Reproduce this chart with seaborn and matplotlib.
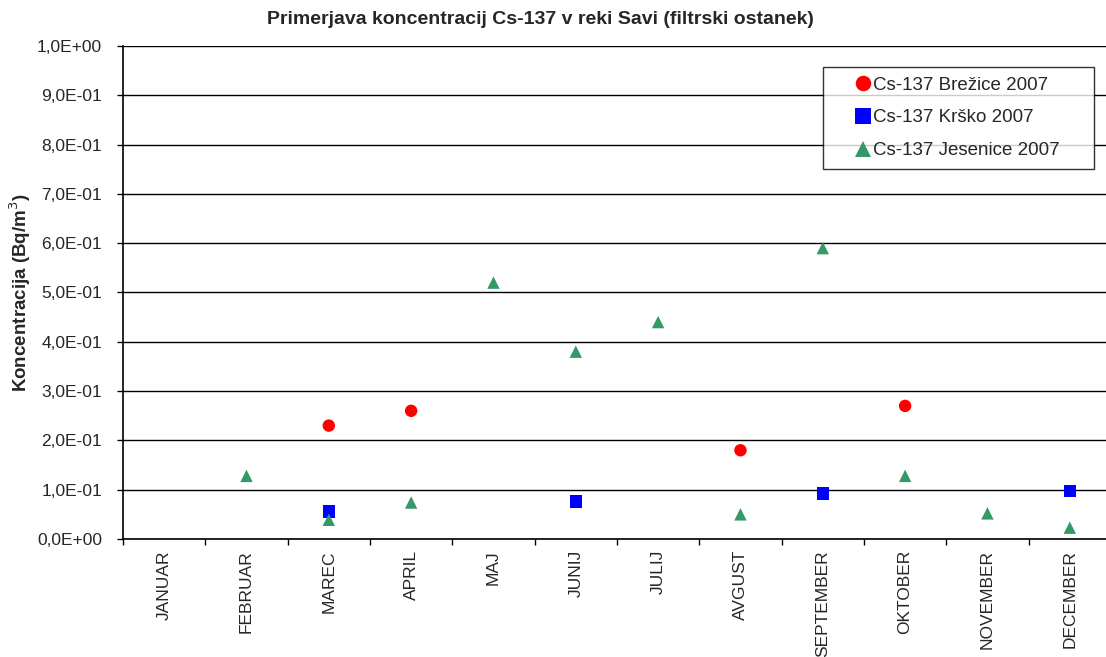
import numpy as np
import pandas as pd
import matplotlib
matplotlib.use("Agg")
import matplotlib.pyplot as plt
import seaborn as sns
from matplotlib.ticker import FixedLocator, FuncFormatter, NullFormatter

months = ["JANUAR", "FEBRUAR", "MAREC", "APRIL", "MAJ", "JUNIJ", "JULIJ",
          "AVGUST", "SEPTEMBER", "OKTOBER", "NOVEMBER", "DECEMBER"]
nan = np.nan
brezice = [nan, nan, 0.23, 0.26, nan, nan, nan, 0.18, nan, 0.27, nan, nan]
krsko = [nan, nan, 0.056, nan, nan, 0.076, nan, nan, 0.092, nan, nan, 0.097]
jesenice = [nan, 0.128, 0.039, 0.074, 0.52, 0.38, 0.44, 0.05, 0.59, 0.128, 0.052, 0.023]
series_names = ["Cs-137 Brežice 2007", "Cs-137 Krško 2007", "Cs-137 Jesenice 2007"]
y_ticks = [0.0, 0.1, 0.2, 0.3, 0.4, 0.5, 0.6, 0.7, 0.8, 0.9, 1.0]

sns.set_theme(style="white")
plt.rcParams['font.family'] = ['Liberation Sans', 'DejaVu Sans']

rows = []
for name, vals in zip(series_names, [brezice, krsko, jesenice]):
    for i, v in enumerate(vals):
        rows.append({"pos": i, "month": months[i], "value": v, "series": name})
df = pd.DataFrame(rows).dropna()

fig = plt.figure(figsize=(11.06, 6.57), dpi=100)
ax = fig.add_axes([0.1112, 0.1796, 0.8888, 0.7504])

palette = {series_names[0]: "#FF0000", series_names[1]: "#0000FF", series_names[2]: "#339966"}
markers = {series_names[0]: "o", series_names[1]: "s", series_names[2]: "^"}
sns.scatterplot(data=df, x="pos", y="value", hue="series", style="series",
                palette=palette, markers=markers, hue_order=series_names,
                style_order=series_names, s=80, linewidth=0, ax=ax, zorder=3)

ax.set_xlim(-0.5, 11.44)
ax.set_ylim(0, 1.0)
ax.set_yticks(y_ticks)
ax.yaxis.set_major_formatter(FuncFormatter(
    lambda v, p: ("%.1E" % v).replace(".", ",") if v != 0 else "0,0E+00"))
ax.grid(axis="y", color="black", linewidth=1.0)
ax.set_axisbelow(True)

ax.xaxis.set_major_locator(FixedLocator(np.arange(-0.5, 12, 1)))
ax.xaxis.set_major_formatter(NullFormatter())
ax.xaxis.set_minor_locator(FixedLocator(np.arange(12)))
ax.set_xticklabels(months, minor=True, rotation=90, fontsize=12.5)
ax.tick_params(axis="x", which="major", direction="out", length=4.5, width=1, color="black", bottom=True)
ax.tick_params(axis="x", which="minor", length=0, pad=8, bottom=True)
ax.tick_params(axis="y", direction="out", length=4.5, width=1, color="black", labelsize=12.5, left=True, pad=10.5)

for side in ["top", "right"]:
    ax.spines[side].set_visible(False)
for side in ["left", "bottom"]:
    ax.spines[side].set_color("black")
    ax.spines[side].set_linewidth(1.2)

ax.set_xlabel("")
ax.set_ylabel("Koncentracija (Bq/m$^3$)", fontsize=13.5, fontweight="bold", labelpad=3)
fig.text(540/1106, 1 - 20/657, "Primerjava koncentracij Cs-137 v reki Savi (filtrski ostanek)",
         fontsize=14, fontweight="bold", ha="center", va="center")

leg = ax.legend(loc="upper left",
                bbox_to_anchor=(823/1106, (657-165)/657, 271/1106, 98/657),
                bbox_transform=fig.transFigure, mode="expand", borderaxespad=0,
                frameon=True, fancybox=False,
                edgecolor="black", fontsize=13.5, handletextpad=-1.1,
                borderpad=0.5, labelspacing=0.84, handlelength=3.25, markerscale=1.25)
leg.get_frame().set_linewidth(1.0)
leg.set_title(None)

fig.savefig("out.png", dpi=100, facecolor="white")
